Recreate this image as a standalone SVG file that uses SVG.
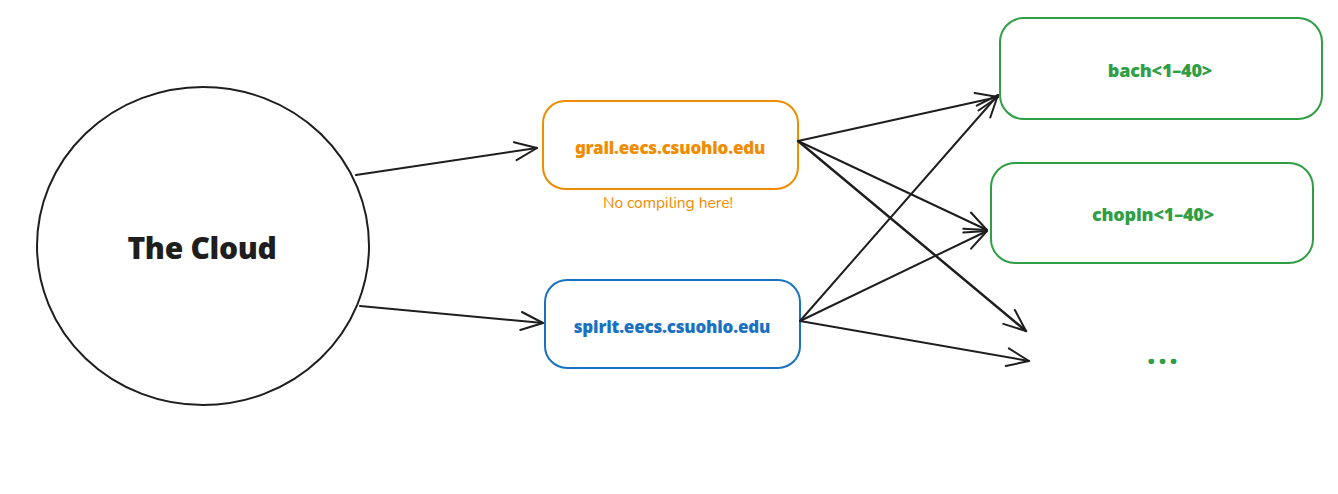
<svg xmlns="http://www.w3.org/2000/svg" width="1338" height="494" viewBox="0 0 1338 494">
<style>
.box{fill:#fff;stroke-width:2;}
.lbl{font-family:"Noto Sans","DejaVu Sans",sans-serif;font-weight:900;font-size:17px;text-anchor:middle;dominant-baseline:central;letter-spacing:-0.2px;}
.conn{stroke:#1e1e1e;stroke-width:2;fill:none;stroke-linecap:round;marker-end:url(#ah);}
</style>
<defs>
<marker id="ah" markerUnits="userSpaceOnUse" viewBox="-26 -12 30 24" refX="0" refY="0" markerWidth="30" markerHeight="24" orient="auto">
<path d="M-22,-9 L0,0 L-22,9" fill="none" stroke="#1e1e1e" stroke-width="2" stroke-linecap="round" stroke-linejoin="round"/>
</marker>
</defs>
<rect width="1338" height="494" fill="#fff"/>
<g id="cloud">
<ellipse cx="203" cy="246" rx="166" ry="159" fill="#fff" stroke="#1e1e1e" stroke-width="2"/>
<text x="202" y="247" class="lbl" style="font-size:30px;fill:#1e1e1e;letter-spacing:-0.3px">The Cloud</text>
</g>
<g id="grail">
<rect x="543" y="101" width="255" height="88" rx="22" class="box" stroke="#f08c00"/>
<text x="670" y="147" class="lbl" fill="#f08c00">grail.eecs.csuohio.edu</text>
<text x="668" y="202" font-family="Nunito,'Noto Sans',sans-serif" font-size="15.5" fill="#f08c00" text-anchor="middle" dominant-baseline="central">No compiling here!</text>
</g>
<g id="spirit">
<rect x="545" y="280" width="255" height="88" rx="22" class="box" stroke="#1971c2"/>
<text x="672" y="326" class="lbl" fill="#1971c2">spirit.eecs.csuohio.edu</text>
</g>
<g id="bach">
<rect x="1000" y="18" width="322" height="101" rx="24" class="box" stroke="#2f9e44"/>
<text x="1160" y="70" class="lbl" style="font-size:18px" fill="#2f9e44">bach&lt;1–40&gt;</text>
</g>
<g id="chopin">
<rect x="991" y="163" width="322" height="100" rx="24" class="box" stroke="#2f9e44"/>
<text x="1153" y="214" class="lbl" style="font-size:18px" fill="#2f9e44">chopin&lt;1–40&gt;</text>
</g>
<g id="more">
<text x="1164" y="353" class="lbl" style="font-size:28px;letter-spacing:3px" fill="#2f9e44">...</text>
</g>
<g id="connectors">
<path class="conn" d="M356,175 L537,148"/>
<path class="conn" d="M360,306 L543,323"/>
<path class="conn" d="M798,141 L998,97"/>
<path class="conn" d="M798,141 L987,230"/>
<path class="conn" d="M798,141 L1026,331" style="stroke-width:2.5"/>
<path class="conn" d="M800,321 L998,95"/>
<path class="conn" d="M800,321 L987,231"/>
<path class="conn" d="M800,321 L1029,361"/>
</g>
</svg>
